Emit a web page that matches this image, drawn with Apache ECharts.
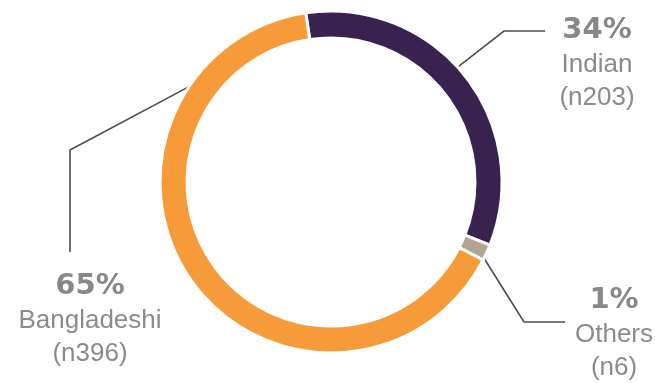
<!DOCTYPE html>
<html>
<head>
<meta charset="utf-8">
<script src="https://cdn.jsdelivr.net/npm/echarts@6/dist/echarts.min.js"></script>
<style>html,body{margin:0;padding:0;background:#fff}#c{width:655px;height:383px}</style>
</head>
<body>
<div id="c"></div>
<script>
const categories = ['Indian', 'Others', 'Bangladeshi'];
const counts = [203, 6, 396];
const percentLabels = ['34%', '1%', '65%'];

const colors = ['#38224f', '#b3a393', '#f79a3a'];
// label placement (styling): anchor angle on ring, elbow, line end, text centre
const leader = [
  { angle: 42.2, elbow: [504, 31], end: [545, 31], text: [597, 63] },
  { angle: -26.5, elbow: [524, 322], end: [565, 322], text: [614, 333] },
  { angle: 146.1, elbow: [70, 150], end: [70, 252], text: [90, 319] }
];
const cx = 331, cy = 182, rOuter = 171;

const chart = echarts.init(document.getElementById('c'), null, { renderer: 'canvas' });
chart.setOption({
  animation: false,
  backgroundColor: '#ffffff',
  series: [{
    type: 'pie',
    center: [cx, cy],
    radius: [144, rOuter],
    startAngle: 98.5,
    clockwise: true,
    minAngle: 5.5,
    avoidLabelOverlap: false,
    itemStyle: { borderColor: '#ffffff', borderWidth: 3 },
    data: categories.map((c, i) => ({
      name: c, value: counts[i], itemStyle: { color: colors[i] }
    })),
    label: {
      show: true,
      position: 'outside',
      formatter: p => '{p|' + percentLabels[p.dataIndex] + '}\n{n|' + p.name + '}\n{n|(n' + counts[p.dataIndex] + ')}',
      rich: {
        p: { fontFamily: 'DejaVu Sans', fontWeight: 'bold', fontSize: 29, color: '#87888a', lineHeight: 36, align: 'center' },
        n: { fontFamily: 'Liberation Sans', fontSize: 26, color: '#8a8b8d', lineHeight: 33, align: 'center' }
      }
    },
    labelLine: { show: true, length: 10, length2: 10, lineStyle: { color: '#524c48', width: 1.6 } },
    labelLayout: function (params) {
      const L = leader[params.dataIndex];
      const a = L.angle * Math.PI / 180;
      const start = [cx + rOuter * Math.cos(a), cy - rOuter * Math.sin(a)];
      return {
        x: L.text[0], y: L.text[1],
        align: 'center', verticalAlign: 'middle',
        labelLinePoints: [start, L.elbow, L.end]
      };
    }
  }]
});
</script>
</body>
</html>
